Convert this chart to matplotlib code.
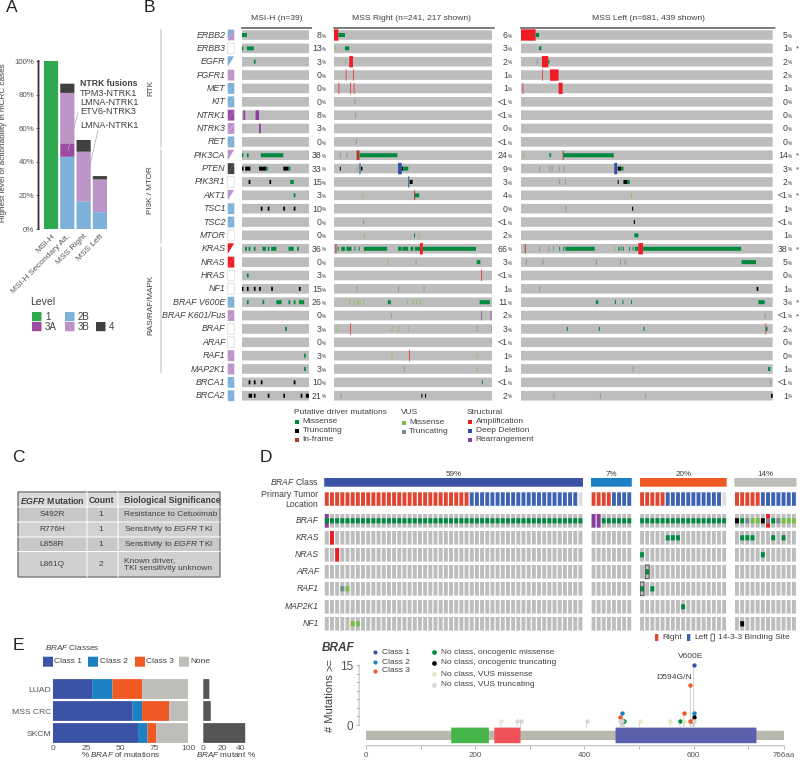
import numpy as np
import matplotlib
matplotlib.use("Agg")
import matplotlib.pyplot as plt
from matplotlib.patches import Rectangle

plt.rcParams['font.family'] = ['Liberation Sans', 'DejaVu Sans']
plt.rcParams['mathtext.fontset'] = 'custom'
plt.rcParams['mathtext.rm'] = 'Liberation Sans'
plt.rcParams['mathtext.it'] = 'Liberation Sans:italic'
plt.rcParams['mathtext.bf'] = 'Liberation Sans:bold'
plt.rcParams['mathtext.bfit'] = 'Liberation Sans:italic:bold'
plt.rcParams['text.color'] = '#404040'
plt.rcParams['axes.labelcolor'] = '#404040'
plt.rcParams['xtick.color'] = '#555555'
plt.rcParams['ytick.color'] = '#555555'
plt.rcParams['path.snap'] = False

# ---- panel A
a_groups = ['MSI-H', 'MSI-H Secondary Alt.', 'MSS Right', 'MSS Left']
a_levels = ['1', '2B', '3A', '3B', '4']
a_values = [[100, 0, 0, 0, 0],
            [0, 43, 8, 30, 5.5],
            [0, 16.5, 0, 29.5, 7],
            [0, 10, 0, 19.5, 2]]
a_fusions = ['TPM3-NTRK1', 'LMNA-NTRK1', 'ETV6-NTRK3', 'LMNA-NTRK1']

# ---- panel B
genes = ['ERBB2', 'ERBB3', 'EGFR', 'FGFR1', 'MET', 'KIT', 'NTRK1', 'NTRK3', 'RET',
         'PIK3CA', 'PTEN', 'PIK3R1', 'AKT1', 'TSC1', 'TSC2', 'MTOR',
         'KRAS', 'NRAS', 'HRAS', 'NF1', 'BRAF V600E', 'BRAF K601/Fus', 'BRAF', 'ARAF',
         'RAF1', 'MAP2K1', 'BRCA1', 'BRCA2']
# actionability swatch: upper-left / lower-right level
swatch_a = ['2B', 'none', '2B', '3B', '2B', '2B', '3A', '3B', '2B',
            '3B', '4', 'none', '3B', '2B', '2B', 'none',
            'onco', 'onco', 'none', 'none', '2B', '3B', 'none', 'none',
            '3B', '3B', '2B', '2B']
swatch_b = ['3B', 'none', 'none', '3B', '2B', '2B', '3A', '3B', '2B',
            'none', '4', 'none', 'none', '2B', '2B', 'none',
            'none', 'onco', 'none', 'none', '2B', '3B', 'none', 'none',
            '3B', '3B', '2B', '2B']
pct_msih = ['8', '13', '3', '0', '0', '0', '8', '3', '0', '38', '33', '15', '3', '10', '0', '0',
            '36', '0', '3', '15', '26', '0', '3', '0', '3', '3', '10', '21']
pct_right = ['6', '3', '2', '1', '1', '<1', '<1', '0', '<1', '24', '9', '3', '4', '0', '<1', '2',
             '66', '3', '<1', '1', '11', '2', '3', '<1', '1', '1', '<1', '2']
pct_left = ['5', '1', '2', '2', '1', '0', '0', '0', '0', '14', '3', '2', '<1', '1', '<1', '1',
            '38', '5', '0', '1', '3', '<1', '2', '0', '0', '1', '<1', '1']
left_star = ['ERBB3', 'PIK3CA', 'PTEN', 'AKT1', 'KRAS', 'BRAF V600E', 'BRAF K601/Fus']

# (gene, first sample, number of samples, kind)
events_msih = [
    ('ERBB2', 0, 3, 'M'), ('ERBB3', 0, 1, 'M'), ('ERBB3', 3, 4, 'M'), ('EGFR', 7, 1, 'M'),
    ('NTRK1', 1, 1, 'R'), ('NTRK1', 8, 2, 'R'), ('NTRK3', 10, 1, 'R'),
    ('PIK3CA', 0, 1, 'M'), ('PIK3CA', 3, 1, 'M'), ('PIK3CA', 11, 13, 'M'),
    ('PTEN', 0, 1, 'T'), ('PTEN', 2, 3, 'T'), ('PTEN', 10, 4, 'T'), ('PTEN', 14, 1, 'M'),
    ('PTEN', 24, 3, 'T'), ('PTEN', 27, 1, 'M'),
    ('PIK3R1', 4, 1, 'T'), ('PIK3R1', 16, 1, 'T'), ('PIK3R1', 28, 2, 'M'),
    ('AKT1', 30, 1, 'M'), ('TSC1', 11, 1, 'T'), ('TSC1', 15, 1, 'T'), ('TSC1', 24, 1, 'T'), ('TSC1', 30, 1, 'T'),
    ('KRAS', 2, 1, 'M'), ('KRAS', 4, 1, 'M'), ('KRAS', 7, 1, 'M'), ('KRAS', 12, 2, 'M'),
    ('KRAS', 15, 1, 'M'), ('KRAS', 17, 3, 'M'), ('KRAS', 27, 3, 'M'), ('KRAS', 32, 1, 'M'),
    ('HRAS', 3, 1, 'M'),
    ('NF1', 0, 1, 'T'), ('NF1', 3, 1, 'T'), ('NF1', 7, 1, 'T'), ('NF1', 10, 1, 'T'), ('NF1', 17, 1, 'T'), ('NF1', 33, 1, 'T'),
    ('BRAF V600E', 3, 1, 'M'), ('BRAF V600E', 12, 1, 'M'), ('BRAF V600E', 20, 3, 'M'),
    ('BRAF V600E', 27, 1, 'M'), ('BRAF V600E', 30, 1, 'M'), ('BRAF V600E', 33, 3, 'M'),
    ('BRAF', 25, 1, 'M'), ('RAF1', 36, 1, 'M'), ('MAP2K1', 36, 1, 'M'),
    ('BRCA1', 4, 1, 'T'), ('BRCA1', 7, 1, 'T'), ('BRCA1', 11, 1, 'T'), ('BRCA1', 30, 1, 'T'),
    ('BRCA2', 4, 2, 'T'), ('BRCA2', 7, 1, 'T'), ('BRCA2', 15, 1, 'T'), ('BRCA2', 24, 1, 'T'),
    ('BRCA2', 34, 1, 'T'), ('BRCA2', 37, 2, 'T'),
]
events_right = [
    ('ERBB2', 0, 6, 'A'), ('ERBB2', 6, 9, 'M'), ('ERBB3', 1, 1, 'VM'), ('ERBB3', 15, 6, 'M'),
    ('EGFR', 15, 1, 'VM'), ('EGFR', 21, 5, 'A'), ('FGFR1', 16, 1, 'A'), ('FGFR1', 26, 1, 'A'),
    ('MET', 6, 1, 'A'), ('MET', 22, 1, 'A'), ('MET', 27, 1, 'A'),
    ('KIT', 28, 1, 'VT'), ('NTRK1', 29, 1, 'VT'), ('RET', 30, 1, 'VT'),
    ('PIK3CA', 8, 1, 'VT'), ('PIK3CA', 17, 1, 'VT'), ('PIK3CA', 31, 4, 'I'), ('PIK3CA', 35, 52, 'M'),
    ('PTEN', 8, 1, 'T'), ('PTEN', 31, 1, 'VM'), ('PTEN', 35, 1, 'D'), ('PTEN', 37, 2, 'T'),
    ('PTEN', 88, 5, 'D'), ('PTEN', 93, 2, 'T'), ('PTEN', 95, 7, 'M'),
    ('PIK3R1', 102, 1, 'D'), ('PIK3R1', 104, 4, 'T'),
    ('AKT1', 39, 1, 'VM'), ('AKT1', 110, 1, 'I'), ('AKT1', 111, 6, 'M'),
    ('TSC2', 40, 1, 'VT'), ('MTOR', 41, 1, 'VM'), ('MTOR', 110, 1, 'M'), ('MTOR', 116, 1, 'VM'),
    ('KRAS', 2, 1, 'I'), ('KRAS', 5, 1, 'M'), ('KRAS', 10, 5, 'M'), ('KRAS', 17, 7, 'M'),
    ('KRAS', 28, 1, 'M'), ('KRAS', 34, 1, 'M'), ('KRAS', 41, 32, 'M'), ('KRAS', 88, 5, 'M'),
    ('KRAS', 94, 8, 'M'), ('KRAS', 105, 4, 'M'), ('KRAS', 111, 7, 'M'), ('KRAS', 118, 4, 'A'), ('KRAS', 122, 73, 'M'),
    ('NRAS', 73, 1, 'VM'), ('NRAS', 112, 1, 'VT'), ('NRAS', 196, 5, 'M'),
    ('HRAS', 202, 1, 'A'),
    ('NF1', 31, 1, 'VT'), ('NF1', 88, 1, 'VT'), ('NF1', 123, 1, 'VT'),
    ('BRAF V600E', 21, 1, 'VM'), ('BRAF V600E', 27, 1, 'VM'), ('BRAF V600E', 32, 1, 'VM'),
    ('BRAF V600E', 35, 1, 'VM'), ('BRAF V600E', 40, 1, 'VM'), ('BRAF V600E', 74, 4, 'M'),
    ('BRAF V600E', 100, 1, 'VM'), ('BRAF V600E', 108, 1, 'VM'), ('BRAF V600E', 113, 1, 'VM'),
    ('BRAF V600E', 118, 1, 'VM'), ('BRAF V600E', 200, 14, 'M'),
    ('BRAF K601/Fus', 78, 1, 'VT'), ('BRAF K601/Fus', 202, 1, 'R'), ('BRAF K601/Fus', 215, 1, 'R'),
    ('BRAF', 4, 1, 'VM'), ('BRAF', 22, 1, 'A'), ('BRAF', 79, 1, 'VM'), ('BRAF', 88, 1, 'VM'),
    ('BRAF', 102, 1, 'VM'), ('BRAF', 196, 1, 'VT'), ('BRAF', 216, 1, 'VT'),
    ('ARAF', 216, 1, 'VM'),
    ('RAF1', 79, 1, 'VM'), ('RAF1', 103, 1, 'A'), ('RAF1', 196, 1, 'VM'),
    ('MAP2K1', 96, 1, 'VT'), ('MAP2K1', 196, 1, 'VM'), ('BRCA1', 203, 1, 'M'),
    ('BRCA2', 9, 1, 'VT'), ('BRCA2', 120, 1, 'T'), ('BRCA2', 125, 1, 'T'),
]
events_left = [
    ('ERBB2', 0, 26, 'A'), ('ERBB2', 26, 6, 'M'), ('ERBB3', 32, 4, 'M'),
    ('EGFR', 28, 1, 'VT'), ('EGFR', 37, 11, 'A'), ('EGFR', 48, 2, 'M'),
    ('FGFR1', 37, 1, 'A'), ('FGFR1', 51, 15, 'A'), ('MET', 3, 1, 'A'), ('MET', 66, 7, 'A'),
    ('PIK3CA', 5, 1, 'VM'), ('PIK3CA', 50, 3, 'M'), ('PIK3CA', 73, 1, 'I'), ('PIK3CA', 74, 88, 'M'),
    ('PTEN', 32, 1, 'VT'), ('PTEN', 50, 1, 'VT'), ('PTEN', 54, 1, 'VT'), ('PTEN', 66, 1, 'VT'),
    ('PTEN', 75, 1, 'VT'), ('PTEN', 163, 5, 'D'), ('PTEN', 169, 6, 'T'), ('PTEN', 175, 4, 'M'),
    ('PIK3R1', 67, 1, 'VT'), ('PIK3R1', 77, 1, 'VT'), ('PIK3R1', 169, 1, 'T'), ('PIK3R1', 179, 7, 'T'), ('PIK3R1', 186, 4, 'M'),
    ('AKT1', 192, 1, 'VM'), ('TSC1', 78, 1, 'VT'), ('TSC1', 194, 2, 'T'), ('TSC2', 197, 2, 'T'), ('MTOR', 198, 7, 'M'),
    ('KRAS', 7, 1, 'I'), ('KRAS', 32, 1, 'VT'), ('KRAS', 48, 1, 'VT'), ('KRAS', 56, 1, 'VT'), ('KRAS', 67, 1, 'M'),
    ('KRAS', 74, 2, 'M'), ('KRAS', 78, 51, 'M'), ('KRAS', 163, 1, 'VM'), ('KRAS', 170, 2, 'M'), ('KRAS', 174, 1, 'M'), ('KRAS', 178, 1, 'M'),
    ('KRAS', 189, 1, 'M'), ('KRAS', 195, 1, 'M'), ('KRAS', 199, 6, 'M'), ('KRAS', 205, 8, 'A'), ('KRAS', 213, 171, 'M'),
    ('NRAS', 9, 1, 'VT'), ('NRAS', 38, 1, 'VT'), ('NRAS', 131, 1, 'VT'), ('NRAS', 173, 1, 'VT'), ('NRAS', 181, 1, 'VT'), ('NRAS', 385, 25, 'M'),
    ('NF1', 32, 1, 'VT'), ('NF1', 411, 3, 'T'),
    ('BRAF V600E', 131, 4, 'M'), ('BRAF V600E', 164, 2, 'M'), ('BRAF V600E', 177, 2, 'M'),
    ('BRAF V600E', 192, 1, 'M'), ('BRAF V600E', 414, 11, 'M'), ('BRAF K601/Fus', 425, 1, 'VT'),
    ('BRAF', 80, 2, 'M'), ('BRAF', 136, 2, 'M'), ('BRAF', 214, 2, 'M'), ('BRAF', 426, 1, 'A'), ('BRAF', 427, 3, 'M'),
    ('MAP2K1', 195, 1, 'VT'), ('MAP2K1', 431, 4, 'M'), ('BRCA1', 435, 1, 'VT'),
    ('BRCA2', 57, 1, 'VT'), ('BRCA2', 138, 1, 'VT'), ('BRCA2', 217, 1, 'VT'), ('BRCA2', 436, 3, 'T'),
]

# ---- panel C
c_mutations = ['S492R', 'R776H', 'L858R', 'L861Q']
c_counts = ['1', '1', '1', '2']
c_significance = ['Resistance to Cetuximab', r'Sensitivity to $\mathit{EGFR}$ TKI',
                  r'Sensitivity to $\mathit{EGFR}$ TKI', 'Known driver,\nTKI sensitivity unknown']

# ---- panel D
d_class_pct = ['59%', '7%', '20%', '14%']
d_sizes = [50, 8, 17, 12]
d_right = [28, 4, 5, 5]
d_left = [21, 4, 11, 7]
d_genes = ['BRAF', 'KRAS', 'NRAS', 'ARAF', 'RAF1', 'MAP2K1', 'NF1']
# (gene, sample, kind) for each class group
d_events = [
    [('BRAF', 0, 'R')] + [('BRAF', i, 'M') for i in range(50)] +
    [('KRAS', 1, 'A'), ('NRAS', 2, 'A'), ('RAF1', 3, 'VT'), ('RAF1', 4, 'VM'), ('NF1', 5, 'VM'), ('NF1', 6, 'VM')],
    [('BRAF', 0, 'R'), ('BRAF', 1, 'R')] + [('BRAF', i, 'M') for i in range(2, 8)],
    [('BRAF', i, 'M') for i in range(17)] +
    [('KRAS', 5, 'M'), ('KRAS', 6, 'M'), ('KRAS', 7, 'M'), ('NRAS', 0, 'M'), ('ARAF', 1, 'M'),
     ('RAF1', 0, 'M'), ('RAF1', 2, 'M'), ('MAP2K1', 8, 'M')],
    [('BRAF', 0, 'T'), ('BRAF', 1, 'M'), ('BRAF', 2, 'VT'), ('BRAF', 3, 'VM'), ('BRAF', 4, 'VM'), ('BRAF', 5, 'T'),
     ('BRAF', 6, 'A'), ('BRAF', 6, 'VT'), ('BRAF', 7, 'M'), ('BRAF', 8, 'VT'), ('BRAF', 9, 'VM'), ('BRAF', 10, 'VM'), ('BRAF', 11, 'VM'),
     ('KRAS', 1, 'M'), ('KRAS', 2, 'M'), ('KRAS', 3, 'M'), ('KRAS', 7, 'M'), ('KRAS', 9, 'M'),
     ('NRAS', 5, 'M'), ('NF1', 1, 'T')],
]
d_binding = [(2, 'ARAF', 1), (2, 'RAF1', 0)]

# BRAF lollipop
lol_aa = [600, 594, 601, 600, 582, 469, 466, 469, 471, 473, 247, 277, 283, 404, 501, 557, 575, 582, 594, 597, 600, 466, 469]
lol_n = [15, 10, 3, 2, 3, 3, 2, 1, 1, 1, 1, 1, 1, 1, 1, 1, 1, 1, 1, 1, 1, 1, 1]
lol_kind = ['c1', 'c3', 'c2', 'onc_t', 'c3', 'c2', 'c3', 'c3', 'c3', 'onc_m', 'vus_m', 'vus_t', 'vus_t', 'vus_t',
            'vus_m', 'vus_m', 'onc_m', 'vus_m', 'c3', 'c3', 'vus_t', 'vus_t', 'vus_t']
domain_start = [156, 235, 457]
domain_end = [225, 283, 715]
domain_color = ['#46b549', '#f0525a', '#5b60ad']

# ---- panel E
e_cancers = ['LUAD', 'MSS CRC', 'SKCM']
e_classes = ['Class 1', 'Class 2', 'Class 3', 'None']
e_values = [[29, 15, 22, 34],
            [59, 7, 20, 14],
            [63, 7, 6.5, 23.5]]
e_mutant = [6.5, 8, 45]

# ---- colours
level_color = {'1': '#2fa84f', '2B': '#7db1d9', '3A': '#9c4ba3', '3B': '#bd94c8', '4': '#404040',
               'onco': '#ee1c25', 'none': 'white'}
kind_color = {'M': '#008a3e', 'T': '#000000', 'I': '#b5392a', 'A': '#ee1c25', 'D': '#2f4fa6',
              'R': '#8a3fa0', 'VM': '#76c043', 'VT': '#7a8794'}
track_grey = '#bdbdbd'
class_color = ['#3a53a4', '#1b80c4', '#ef5a24', '#bfbdb9']
lol_color = {'c1': '#3a53a4', 'c2': '#1b80c4', 'c3': '#ef5a24', 'onc_m': '#008a3e', 'onc_t': '#000000',
             'vus_m': '#e3e8c8', 'vus_t': '#d6d6d6'}

W, H = 800, 760
fig = plt.figure(figsize=(8, 7.6), dpi=100)


def px_axes(x0, y0, x1, y1):
    return fig.add_axes([x0 / W, 1 - y1 / H, (x1 - x0) / W, (y1 - y0) / H])


# page axes in pixels, used for text and small legend marks
page = fig.add_axes([0, 0, 1, 1], zorder=5)
page.set_xlim(0, W)
page.set_ylim(H, 0)
page.axis('off')
page.patch.set_alpha(0)

for letter, lx, ly in [('A', 6, 7), ('B', 144, 7), ('C', 12, 458), ('D', 260, 458), ('E', 13, 646)]:
    page.text(lx, ly, letter, fontsize=12.5, color='#222222', va='center')

# ---------- A
ax = px_axes(38.5, 61, 110, 229)
bottoms = np.zeros(4)
for j, lev in enumerate(a_levels):
    vals = np.array([row[j] for row in a_values])
    ax.bar(range(4), vals, bottom=bottoms, width=0.87, color=level_color[lev], linewidth=0)
    bottoms += vals
ax.set_xlim(-0.77, 3.62)
ax.set_ylim(0, 100)
ax.set_yticks([0, 20, 40, 60, 80, 100])
ax.set_yticklabels(['0%', '20%', '40%', '60%', '80%', '100%'], fontsize=5.7)
ax.set_xticks(range(4))
ax.set_xticklabels(a_groups, rotation=45, ha='right', rotation_mode='anchor', fontsize=6)
ax.tick_params(axis='x', length=0, pad=3)
ax.tick_params(axis='y', length=2, width=0.6, pad=1)
for s in ['top', 'right', 'bottom']:
    ax.spines[s].set_visible(False)
ax.spines['left'].set_linewidth(1.3)
ax.spines['left'].set_color('#333333')
page.text(4, 143, 'Highest level of actionability in mCRC cases', rotation=90, fontsize=5.9, ha='center', va='center')
page.text(79.5, 83, 'NTRK fusions', fontsize=6.2, fontweight='bold', va='center')
for fy, name in zip([93, 102.5, 112, 125], a_fusions):
    page.text(80, fy, name, fontsize=6.6, va='center')
page.plot([78, 68], [113, 150], color='#aaaaaa', lw=0.5)
page.plot([98, 82], [130, 201], color='#aaaaaa', lw=0.5)
page.text(30, 302, 'Level', fontsize=7.5, va='center')
for lev, sx, sy in [('1', 32, 312), ('3A', 32, 322), ('2B', 65, 312), ('3B', 65, 322), ('4', 96, 322)]:
    page.add_patch(Rectangle((sx, sy), 9.5, 9.2, facecolor=level_color[lev], edgecolor='none'))
    page.text(sx + 13, sy + 4.8, lev, fontsize=7, va='center')

# ---------- B
row_y = [35 + 13.36 * i for i in range(len(genes))]
top_y, bot_y = 35 - 13.36 / 2, 35 + 13.36 * 27.5
columns = [(241.7, 309.3, 39, events_msih, pct_msih, 326, 'MSI-H (n=39)', 277),
           (334, 492, 217, events_right, pct_right, 512, 'MSS Right (n=241, 217 shown)', 412),
           (520.7, 772.7, 439, events_left, pct_left, 792, 'MSS Left (n=681, 439 shown)', 648)]
kind_h = {'M': 0.3, 'T': 0.3, 'I': 0.72, 'A': 0.85, 'D': 0.85, 'R': 0.72, 'VM': 0.4, 'VT': 0.4}

for x0, x1, n, events, pcts, pct_x, title, title_x in columns:
    ax = px_axes(x0, top_y, x1, bot_y)
    ax.barh(range(len(genes)), n, height=0.72, color=track_grey, linewidth=0)
    px_per = (x1 - x0) / n
    for gene, start, count, kind in events:
        w = max(count, 1.0 / px_per)
        alpha = 0.7 if count * px_per < 1 and kind in ('VT', 'VM', 'A', 'R') else 1
        ax.barh(genes.index(gene), w, left=start, height=kind_h[kind], color=kind_color[kind], linewidth=0, alpha=alpha)
    ax.set_xlim(0, n)
    ax.set_ylim(len(genes) - 0.5, -0.5)
    ax.axis('off')
    page.text(title_x, 19, title, fontsize=6.1, ha='center', va='center')
    page.plot([x0, x1 + 2], [28, 28], color='#333333', lw=0.9)
    for y, p in zip(row_y, pcts):
        page.text(pct_x - 4.2, y + 0.4, p, fontsize=6.3, ha='right', va='center')
        page.text(pct_x - 4, y + 1.2, '%', fontsize=3.4, ha='left', va='center')

for y, g, ca, cb in zip(row_y, genes, swatch_a, swatch_b):
    page.text(225.5, y, g, fontsize=6.4, style='italic', ha='right', va='center')
    sx0, sx1, sy0, sy1 = 227.7, 234.3, y - 5.4, y + 5.4
    if ca == 'none' and cb == 'none':
        page.add_patch(Rectangle((sx0, sy0), sx1 - sx0, sy1 - sy0, facecolor='white', edgecolor='#dddddd', lw=0.6))
    else:
        page.fill([sx0, sx1, sx0], [sy0, sy0, sy1], color=level_color[ca], lw=0)
        page.fill([sx1, sx1, sx0], [sy0, sy1, sy1], color=level_color[cb], lw=0)
    if g in left_star:
        page.text(797, y + 1, '*', fontsize=5.5, ha='center', va='center')

for y0, y1 in [(30, 147), (150, 243), (247, 373)]:
    page.plot([161, 161], [y0, y1], color='#bbbbbb', lw=0.7)
for label, y in [('RTK', 88), ('PI3K / MTOR', 190), ('RAS/RAF/MAPK', 305)]:
    page.text(151, y, label, rotation=90, fontsize=5.9, ha='center', va='center')

legend_b = [(294, 412, 'Putative driver mutations', [('M', 'Missense'), ('T', 'Truncating'), ('I', 'In-frame')]),
            (400.7, 413, 'VUS', [('VM', 'Missense'), ('VT', 'Truncating')]),
            (467, 412, 'Structural', [('A', 'Amplification'), ('D', 'Deep Deletion'), ('R', 'Rearrangement')])]
for lx, ly, head, items in legend_b:
    page.text(lx, ly, head, fontsize=6, va='center')
    for i, (k, lab) in enumerate(items):
        iy = ly + 9.5 + 9 * i
        page.plot([lx + 3], [iy], marker='s', ms=2.4, color=kind_color[k], mew=0)
        page.text(lx + 8.5, iy, lab, fontsize=6, va='center')

# ---------- C
c_edges = [492, 507, 522, 537, 551.5, 577]
c_fill = ['#dadada', '#c8c8c8', '#d2d2d2', '#c8c8c8', '#d0d0d0']
for i, fc in enumerate(c_fill):
    page.add_patch(Rectangle((18, c_edges[i]), 202, c_edges[i + 1] - c_edges[i], facecolor=fc, edgecolor='none'))
for e in c_edges[1:-1]:
    page.plot([18, 220], [e, e], color='white', lw=0.7)
for xv in [87, 118]:
    page.plot([xv, xv], [492, 577], color='white', lw=0.7)
page.add_patch(Rectangle((18, 492), 202, 85, facecolor='none', edgecolor='#777777', lw=1.0))
page.text(52.5, 500.5, r'$\mathbfit{EGFR}$ Mutation', fontsize=6.3, fontweight='bold', ha='center', va='center')
page.text(101.5, 500.5, 'Count', fontsize=6.3, fontweight='bold', ha='center', va='center')
page.text(123.5, 500.5, 'Biological Significance', fontsize=6.3, fontweight='bold', va='center')
for i in range(4):
    cy = (c_edges[i + 1] + c_edges[i + 2]) / 2
    page.text(52, cy, c_mutations[i], fontsize=6, ha='center', va='center')
    page.text(101, cy, c_counts[i], fontsize=6, ha='center', va='center')
    page.text(123.5, cy, c_significance[i], fontsize=6, va='center', linespacing=1.15)

# ---------- D
d_x = [(324.2, 583), (591, 631.8), (639.5, 726.7), (734.4, 796.5)]
d_tops = [514, 531, 548, 565, 582, 600, 617]
d_row_h = 13.6
for g, (gx0, gx1) in enumerate(d_x):
    n = d_sizes[g]
    ax = px_axes(gx0, 470, gx1, 632)
    ax.set_xlim(0, n)
    ax.set_ylim(632, 470)
    ax.axis('off')
    ax.bar(n / 2, 8.7, bottom=478, width=n, color=class_color[g], linewidth=0)
    tile_w = 0.76
    idx = np.arange(n) + 0.12
    tumor = ['#e2452f'] * d_right[g] + ['#3c62b3'] * d_left[g] + ['#dfdfdf'] * (n - d_right[g] - d_left[g])
    ax.bar(idx, 13.5, bottom=492.3, width=tile_w, align='edge', color=tumor, linewidth=0)
    for top in d_tops:
        ax.bar(idx, d_row_h, bottom=top, width=tile_w, align='edge', color=track_grey, linewidth=0)
    for gene, i, kind in d_events[g]:
        top = d_tops[d_genes.index(gene)]
        if kind in ('A', 'R'):
            ax.bar(i + 0.12, d_row_h, bottom=top, width=tile_w, align='edge', color=kind_color[kind], linewidth=0)
        else:
            ax.bar(i + 0.12, 5.2, bottom=top + 4.2, width=tile_w, align='edge', color=kind_color[kind], linewidth=0)
    for bg, gene, i in d_binding:
        if bg == g:
            ax.bar(i + 0.12, d_row_h, bottom=d_tops[d_genes.index(gene)], width=tile_w, align='edge',
                   facecolor='none', edgecolor='#555555', linewidth=0.8)
    page.text((gx0 + gx1) / 2, 474, d_class_pct[g], fontsize=5.8, ha='center', va='center')

page.text(319, 481.5, r'$\mathit{BRAF}$ Class', fontsize=6.2, ha='right', va='center')
page.text(318, 499.5, 'Primary Tumor\nLocation', fontsize=6.2, ha='right', va='center', linespacing=1.25)
for top, g in zip(d_tops, d_genes):
    page.text(319, top + d_row_h / 2, g, fontsize=6.2, style='italic', ha='right', va='center')

page.add_patch(Rectangle((655, 634), 3.3, 7, facecolor='#e2452f', edgecolor='none'))
page.text(662, 637.8, 'Right', fontsize=6, va='center')
page.add_patch(Rectangle((687, 634), 3.3, 7, facecolor='#3c62b3', edgecolor='none'))
page.text(694, 637.8, 'Left', fontsize=6, va='center')
page.add_patch(Rectangle((711, 634), 3.5, 7, facecolor='white', edgecolor='#555555', lw=0.6))
page.text(718, 637.8, '14-3-3 Binding Site', fontsize=6, va='center')

# ---------- BRAF lollipop
ax = px_axes(366, 650, 784.3, 748)
ax.patch.set_alpha(0)
ax.set_xlim(0, 766)
ax.set_ylim(-5.75, 18.75)
ax.barh(-2.6, 766, height=2.3, color='#b8b8ac', linewidth=0)
for ds, de, dc in zip(domain_start, domain_end, domain_color):
    ax.barh(-2.6, de - ds, left=ds, height=3.9, color=dc, linewidth=0)
for aa, n, k in zip(lol_aa, lol_n, lol_kind):
    ax.plot([aa, aa], [-0.6, n], color='#cccccc', lw=0.6, zorder=1)
    ax.scatter([aa], [n], s=10, color=lol_color[k], linewidth=0, zorder=3)
for s in ['top', 'right']:
    ax.spines[s].set_visible(False)
ax.spines['left'].set_position(('outward', 5))
ax.spines['left'].set_bounds(0, 15)
ax.spines['bottom'].set_position(('data', -5.2))
ax.spines['bottom'].set_bounds(0, 766)
for s in ['left', 'bottom']:
    ax.spines[s].set_linewidth(0.5)
    ax.spines[s].set_color('#999999')
ax.set_yticks([0, 15])
ax.set_yticklabels(['0', '15'], fontsize=8.5)
ax.set_yticks(np.linspace(0, 15, 8), minor=True)
ax.set_xticks([0, 200, 400, 600, 766])
ax.set_xticklabels(['0', '200', '400', '600', '766aa'], fontsize=5.8)
ax.set_xticks([100, 300, 500, 700], minor=True)
ax.tick_params(axis='both', which='both', length=2.2, width=0.5, color='#999999', pad=2)
page.text(322, 648, 'BRAF', fontsize=8.5, fontweight='bold', style='italic', va='center')
page.text(330, 703, '# Mutations', rotation=90, fontsize=8, ha='center', va='center')
page.text(330, 664.5, '>=', rotation=90, fontsize=8, ha='center', va='center')
page.text(691, 657, 'V600E', fontsize=6.1, ha='center', va='center')
page.text(674, 677.5, 'D594G/N', fontsize=6.1, ha='center', va='center')
for k, lab, my in [('c1', 'Class 1', 652), ('c2', 'Class 2', 662), ('c3', 'Class 3', 671)]:
    page.plot([375], [my], marker='o', ms=3, color=lol_color[k], mew=0)
    page.text(381.7, my, lab, fontsize=6, va='center')
for k, lab, my in [('onc_m', 'No class, oncogenic missense', 652), ('onc_t', 'No class, oncogenic truncating', 663),
                   ('vus_m', 'No class, VUS missense', 674), ('vus_t', 'No class, VUS truncating', 685)]:
    page.plot([434], [my], marker='o', ms=3.4, color=lol_color[k], mew=0)
    page.text(440.7, my, lab, fontsize=6, va='center')

# ---------- E
page.text(45, 647.5, r'$\mathit{BRAF}$ Classes', fontsize=5.9, va='center')
for lab, c, sx in zip(e_classes, class_color, [43, 88, 135, 179]):
    page.add_patch(Rectangle((sx, 656.7), 10, 10, facecolor=c, edgecolor='none'))
    page.text(sx + 11.5, 661.8, lab, fontsize=6, va='center')

ax = px_axes(53, 678, 188, 744)
left = np.zeros(3)
for j in range(4):
    vals = np.array([row[j] for row in e_values])
    ax.barh(range(3), vals, left=left, height=0.9, color=class_color[j], linewidth=0)
    left += vals
ax.set_xlim(0, 100)
ax.set_ylim(2.5, -0.5)
ax.set_yticks(range(3))
ax.set_yticklabels(e_cancers, fontsize=6.1)
ax.set_xticks([0, 25, 50, 75, 100])
ax.tick_params(axis='x', labelsize=6, length=0, pad=0.5)
ax.tick_params(axis='y', length=0, pad=1.5)
ax.set_xlabel(r'% $\mathit{BRAF}$ of mutations', fontsize=5.9, labelpad=-1)
for s in ax.spines.values():
    s.set_visible(False)

ax = px_axes(203.3, 678, 248, 744)
ax.barh(range(3), e_mutant, height=0.9, color='#555555', linewidth=0)
ax.set_xlim(0, 48)
ax.set_ylim(2.5, -0.5)
ax.set_yticks([])
ax.set_xticks([0, 20, 40])
ax.tick_params(axis='x', labelsize=6, length=0, pad=0.5)
ax.set_xlabel(r'$\mathit{BRAF}$ mutant %', fontsize=5.9, labelpad=-1)
for s in ax.spines.values():
    s.set_visible(False)

fig.savefig('out.png', dpi=100)
